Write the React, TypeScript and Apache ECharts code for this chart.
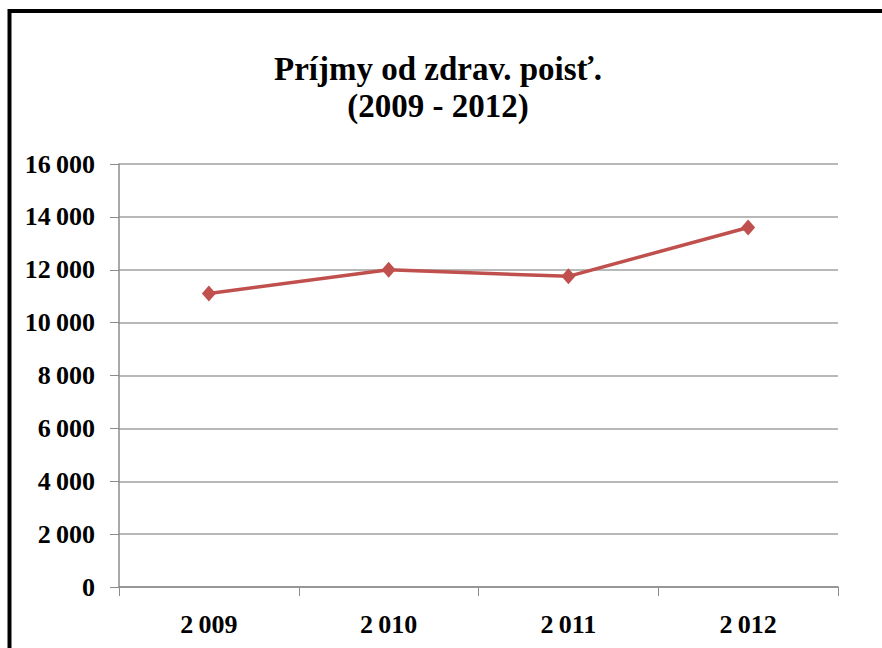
import React, { useEffect, useRef } from "react";
import * as echarts from "echarts";

const categories = ["2\u2009009", "2\u2009010", "2\u2009011", "2\u2009012"];
const values = [11100, 12000, 11750, 13600];
const titleLines = ["Príjmy od zdrav. poisť.", "(2009 - 2012)"];
const yMin = 0;
const yMax = 16000;
const yStep = 2000;

const fmt = (v: number) => String(v).replace(/\B(?=(\d{3})+(?!\d))/g, "\u2009");

export default function App() {
  const ref = useRef<HTMLDivElement>(null);
  useEffect(() => {
    document.body.style.margin = "0";
    const chart = echarts.init(ref.current!, null, { renderer: "svg" });
    const font = "'Liberation Serif', 'Times New Roman', serif";
    chart.setOption({
      animation: false,
      backgroundColor: "#ffffff",
      title: {
        text: titleLines.join("\n"),
        left: 433,
        top: 45,
        textAlign: "center",
        textStyle: {
          fontFamily: font,
          fontWeight: "bold",
          fontSize: 33,
          lineHeight: 37,
          color: "#000",
        },
      },
      graphic: [
        {
          type: "rect",
          shape: { x: 9.5, y: 11, width: 2000, height: 2000 },
          style: { fill: "none", stroke: "#000", lineWidth: 4 },
          z: 100,
        },
      ],
      grid: { left: 119, right: 44, top: 164, bottom: 61 },
      xAxis: {
        type: "category",
        data: categories,
        boundaryGap: true,
        axisLine: { lineStyle: { color: "#8c8c8c", width: 1.5 } },
        axisTick: { show: true, length: 9, lineStyle: { color: "#8c8c8c" } },
        axisLabel: {
          margin: 24,
          fontFamily: font,
          fontWeight: "bold",
          fontSize: 26,
          color: "#000",
        },
      },
      yAxis: {
        type: "value",
        min: yMin,
        max: yMax,
        interval: yStep,
        axisLine: { show: true, lineStyle: { color: "#8c8c8c", width: 1.5 } },
        axisTick: { show: true, length: 9, lineStyle: { color: "#8c8c8c" } },
        splitLine: { show: true, lineStyle: { color: "#a0a0a0", width: 1.5 } },
        axisLabel: {
          margin: 24,
          fontFamily: font,
          fontWeight: "bold",
          fontSize: 26,
          color: "#000",
          formatter: (v: number) => fmt(v),
        },
      },
      series: [
        {
          type: "line",
          data: values,
          symbol: "diamond",
          symbolSize: [14, 16],
          lineStyle: { color: "#C0504D", width: 3.5 },
          itemStyle: { color: "#C0504D" },
        },
      ],
    });
    return () => chart.dispose();
  }, []);
  return <div ref={ref} style={{ width: 882, height: 648 }} />;
}
